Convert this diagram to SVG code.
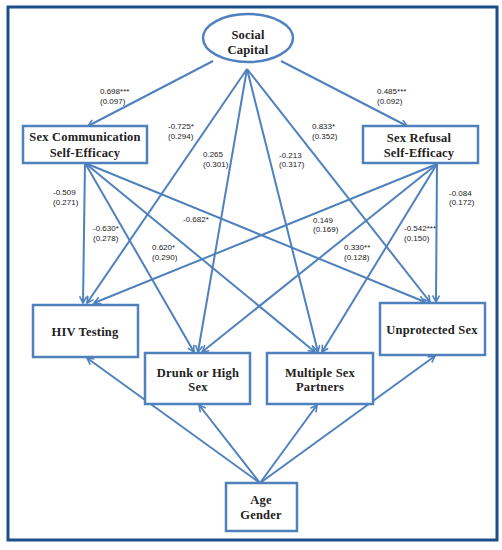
<svg xmlns="http://www.w3.org/2000/svg" width="502" height="550" viewBox="0 0 502 550">
<defs>
<marker id="arr" markerUnits="userSpaceOnUse" markerWidth="10" markerHeight="10" refX="7" refY="4" orient="auto">
<path d="M0.5,0.5 L7,4 L0.5,7.5" fill="none" stroke="#4f81bd" stroke-width="1.6"/>
</marker>
</defs>
<style>
.node{fill:#fff;stroke:#4f81bd;stroke-width:2.5}
.t{font-family:"Liberation Serif",serif;font-weight:bold;font-size:12.5px;fill:#222;text-anchor:middle;letter-spacing:0.2px}
.e{fill:none;stroke:#4f81bd;stroke-width:2;marker-end:url(#arr)}
.l{font-family:"Liberation Sans",Arial,sans-serif;font-size:8px;fill:#222}
</style>
<rect width="502" height="550" fill="#fff"/>
<rect x="8" y="7" width="489" height="533" fill="none" stroke="#1f4e8c" stroke-width="3"/>
<g id="connectors">
<line class="e" x1="213" y1="61" x2="88" y2="126"/>
<line class="e" x1="281" y1="61" x2="407" y2="126"/>
<line class="e" x1="247" y1="69" x2="87" y2="303"/>
<line class="e" x1="247" y1="69" x2="198" y2="352"/>
<line class="e" x1="247" y1="69" x2="318" y2="352"/>
<line class="e" x1="247" y1="69" x2="430" y2="302"/>
<line class="e" x1="85" y1="163" x2="83" y2="303"/>
<line class="e" x1="85" y1="163" x2="194" y2="352"/>
<line class="e" x1="85" y1="163" x2="315" y2="352"/>
<line class="e" x1="85" y1="163" x2="425" y2="302"/>
<line class="e" x1="437" y1="164" x2="436" y2="302"/>
<line class="e" x1="437" y1="164" x2="94" y2="303"/>
<line class="e" x1="437" y1="164" x2="202" y2="352"/>
<line class="e" x1="437" y1="164" x2="322" y2="352"/>
<line class="e" x1="260" y1="483" x2="87" y2="358"/>
<line class="e" x1="260" y1="483" x2="199" y2="405"/>
<line class="e" x1="260" y1="483" x2="317" y2="405"/>
<line class="e" x1="260" y1="483" x2="435" y2="356"/>
<text class="l" x="100" y="94">0.698***</text><text class="l" x="100" y="104">(0.097)</text>
<text class="l" x="377" y="94">0.485***</text><text class="l" x="377" y="104">(0.092)</text>
<text class="l" x="168" y="129">-0.725*</text><text class="l" x="168" y="139">(0.294)</text>
<text class="l" x="312" y="129">0.833*</text><text class="l" x="312" y="139">(0.352)</text>
<text class="l" x="203" y="157">0.265</text><text class="l" x="203" y="167">(0.301)</text>
<text class="l" x="279" y="158">-0.213</text><text class="l" x="279" y="167">(0.317)</text>
<text class="l" x="53" y="195">-0.509</text><text class="l" x="53" y="205">(0.271)</text>
<text class="l" x="93" y="231">-0.630*</text><text class="l" x="93" y="241">(0.278)</text>
<text class="l" x="183" y="222">-0.682*</text>
<text class="l" x="152" y="250">0.620*</text><text class="l" x="152" y="260">(0.290)</text>
<text class="l" x="313" y="223">0.149</text><text class="l" x="313" y="232">(0.169)</text>
<text class="l" x="344" y="250">0.330**</text><text class="l" x="344" y="260">(0.128)</text>
<text class="l" x="404" y="231">-0.542***</text><text class="l" x="404" y="241">(0.150)</text>
<text class="l" x="449" y="196">-0.084</text><text class="l" x="449" y="205">(0.172)</text>
</g>
<g id="social-capital">
<ellipse class="node" cx="248" cy="38" rx="45" ry="24"/>
<text class="t" x="248" y="39">Social</text>
<text class="t" x="248" y="54">Capital</text>
</g>
<g id="sex-communication">
<rect class="node" x="23" y="126" width="124" height="37"/>
<text class="t" x="85" y="141">Sex Communication</text>
<text class="t" x="85" y="157">Self-Efficacy</text>
</g>
<g id="sex-refusal">
<rect class="node" x="363" y="126" width="115" height="37"/>
<text class="t" x="419" y="142">Sex Refusal</text>
<text class="t" x="419" y="157">Self-Efficacy</text>
</g>
<g id="hiv-testing">
<rect class="node" x="33" y="305" width="105" height="52"/>
<text class="t" x="85" y="336">HIV Testing</text>
</g>
<g id="drunk-high-sex">
<rect class="node" x="145" y="353" width="105" height="51"/>
<text class="t" x="198" y="377">Drunk or High</text>
<text class="t" x="198" y="391">Sex</text>
</g>
<g id="multiple-partners">
<rect class="node" x="267" y="353" width="106" height="51"/>
<text class="t" x="320" y="377">Multiple Sex</text>
<text class="t" x="320" y="391">Partners</text>
</g>
<g id="unprotected-sex">
<rect class="node" x="380" y="303" width="105" height="52"/>
<text class="t" x="432" y="334">Unprotected Sex</text>
</g>
<g id="age-gender">
<rect class="node" x="226" y="483" width="71" height="48"/>
<text class="t" x="261" y="504">Age</text>
<text class="t" x="261" y="519">Gender</text>
</g>
</svg>
